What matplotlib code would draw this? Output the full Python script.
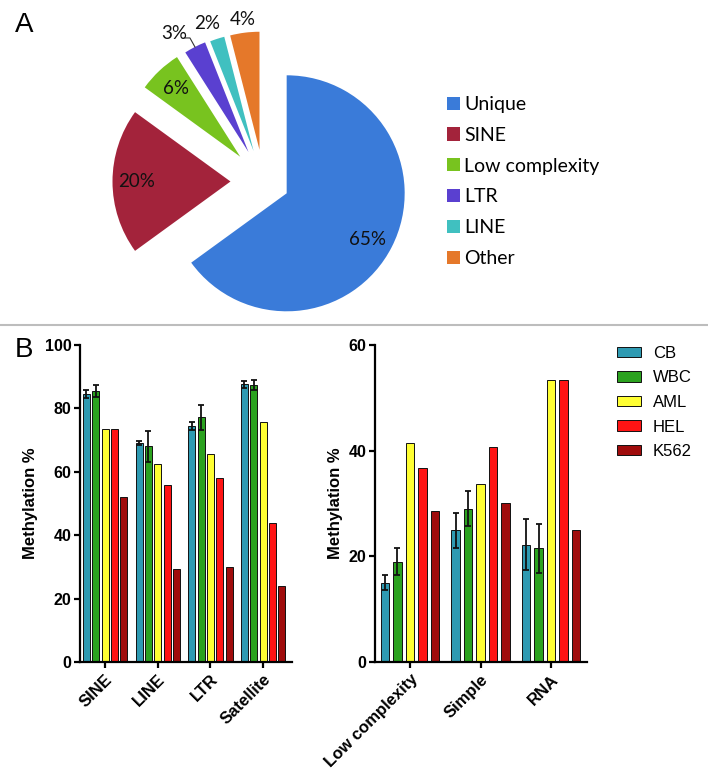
import numpy as np
import matplotlib
matplotlib.use('Agg')
import matplotlib.pyplot as plt
from matplotlib.lines import Line2D

# --- panel A data
pie_cats = ['Unique', 'SINE', 'Low complexity', 'LTR', 'LINE', 'Other']
pie_vals = [65, 20, 6, 3, 2, 4]
pie_colors = ['#3A7BD9', '#A3233B', '#78C31F', '#5A40D0', '#40C0C0', '#E5782A']

# --- panel B data
samples = ['CB', 'WBC', 'AML', 'HEL', 'K562']
bar_colors = ['#2E9AB2', '#2BA21F', '#FFFF33', '#FF1414', '#A00C0C']

left_cats = ['SINE', 'LINE', 'LTR', 'Satellite']
cb_left = [84.5, 69.0, 74.4, 87.6]
cb_left_err = [1.3, 0.6, 1.2, 1.1]
wbc_left = [85.5, 68.1, 77.2, 87.4]
wbc_left_err = [1.8, 4.9, 4.0, 1.5]
aml_left = [73.6, 62.4, 65.6, 75.6]
hel_left = [73.6, 55.7, 58.0, 43.8]
k562_left = [52.0, 29.3, 29.9, 24.0]

right_cats = ['Low complexity', 'Simple', 'RNA']
cb_right = [15.0, 24.9, 22.2]
cb_right_err = [1.4, 3.3, 4.8]
wbc_right = [19.0, 29.0, 21.5]
wbc_right_err = [2.5, 3.3, 4.7]
aml_right = [41.4, 33.7, 53.3]
hel_right = [36.8, 40.6, 53.3]
k562_right = [28.6, 30.1, 24.9]

W, H = 708, 783
fig = plt.figure(figsize=(W / 100, H / 100), dpi=100)

# ---------------- panel A: pie (axes in pixel units, y up)
pax = fig.add_axes([0, 0, 1, 1])
explode = [26, 33, 34, 33, 32, 32]
wedges, _ = pax.pie(pie_vals, colors=pie_colors, explode=explode, radius=118,
                    center=(263.5, H - 181.5), startangle=90, counterclock=False,
                    wedgeprops=dict(linewidth=0))
pax.set_xlim(0, W)
pax.set_ylim(0, H)
pax.set_aspect('auto')
pax.axis('off')

lab_dist = [0.79, 0.80, 0.79, 1.19, 1.15, 1.11]
lab_shift = [-3, 0, 0, 5, 2, 0]
for w, v, d, s in zip(wedges, pie_vals, lab_dist, lab_shift):
    th = np.deg2rad((w.theta1 + w.theta2) / 2 + s)
    cx, cy = w.center
    pax.text(cx + d * w.r * np.cos(th), cy + d * w.r * np.sin(th), '%d%%' % v,
             ha='center', va='center', fontsize=13.5, family='Lato', color='#111111')

# leader line for the small LTR slice
w = wedges[3]
th = np.deg2rad((w.theta1 + w.theta2) / 2)
ax0 = w.center[0] + w.r * np.cos(th)
ay0 = w.center[1] + w.r * np.sin(th)
pax.plot([ax0, ax0 - 5, ax0 - 10], [ay0, ay0 + 9, ay0 + 9], color='#333333', lw=0.8)

leg = pax.legend(wedges, pie_cats, loc='upper left', bbox_to_anchor=(447 / W, 1 - 96 / H),
                 bbox_transform=fig.transFigure, frameon=False, borderpad=0, borderaxespad=0,
                 handlelength=0.67, handleheight=0.67, handletextpad=0.2, labelspacing=0.71,
                 prop=dict(family='Lato', size=14))

fig.text(15 / W, 1 - 25 / H, 'A', fontsize=20, family='Liberation Sans', va='center', ha='left')
fig.text(15 / W, 1 - 350 / H, 'B', fontsize=20, family='Liberation Sans', va='center', ha='left')
fig.add_artist(Line2D([0, 1], [1 - 325 / H, 1 - 325 / H], color='#BDBDBD', lw=1.5,
                      transform=fig.transFigure))

# ---------------- panel B: grouped bars
def grouped(ax, cats, series, errs, width, ylim, yticks, xlim, label_x):
    x = np.arange(len(cats))
    pitch = 0.177
    for i, (vals, col) in enumerate(zip(series, bar_colors)):
        pos = x + (i - 2) * pitch
        ax.bar(pos, vals, width, color=col, edgecolor='#111111', linewidth=0.7, zorder=2)
        if errs[i] is not None:
            ax.errorbar(pos, vals, yerr=errs[i], fmt='none', ecolor='#111111',
                        elinewidth=1.3, capsize=2, capthick=1.3, zorder=3)
    ax.set_xlim(*xlim)
    ax.set_ylim(*ylim)
    ax.set_yticks(yticks)
    ax.set_xticks(x)
    ax.set_xticklabels(cats, rotation=45, ha='right', rotation_mode='anchor')
    for s in ['top', 'right']:
        ax.spines[s].set_visible(False)
    for s in ['left', 'bottom']:
        ax.spines[s].set_linewidth(1.6)
    ax.tick_params(width=1.6, length=4, pad=2)
    ax.tick_params(axis='y', labelsize=11.5)
    ax.tick_params(axis='x', labelsize=12, pad=3)
    for t in ax.get_xticklabels() + ax.get_yticklabels():
        t.set_fontweight('bold')
        t.set_family('Liberation Sans')
    ax.set_ylabel('Methylation %', fontsize=12, fontweight='bold', family='Liberation Sans')
    ax.yaxis.set_label_coords(label_x, 0.5)

axL = fig.add_axes([80 / W, (H - 662) / H, 212 / W, 317 / H])
grouped(axL, left_cats, [cb_left, wbc_left, aml_left, hel_left, k562_left],
        [cb_left_err, wbc_left_err, None, None, None], 0.133,
        (0, 100), [0, 20, 40, 60, 80, 100], (-0.475, 3.55), -0.198)

axR = fig.add_axes([375 / W, (H - 662) / H, 212 / W, 317 / H])
grouped(axR, right_cats, [cb_right, wbc_right, aml_right, hel_right, k562_right],
        [cb_right_err, wbc_right_err, None, None, None], 0.118,
        (0, 60), [0, 20, 40, 60], (-0.496, 2.51), -0.151)

handles = [plt.Rectangle((0, 0), 1, 1, facecolor=c, edgecolor='#111111', linewidth=0.7)
           for c in bar_colors]
fig.legend(handles, samples, loc='upper left', bbox_to_anchor=(617 / W, 1 - 346 / H),
           frameon=False, borderpad=0, borderaxespad=0, handlelength=1.44, handleheight=0.6,
           handletextpad=0.72, labelspacing=0.57, prop=dict(family='Liberation Sans', size=12))

fig.savefig('out.png', dpi=100)
